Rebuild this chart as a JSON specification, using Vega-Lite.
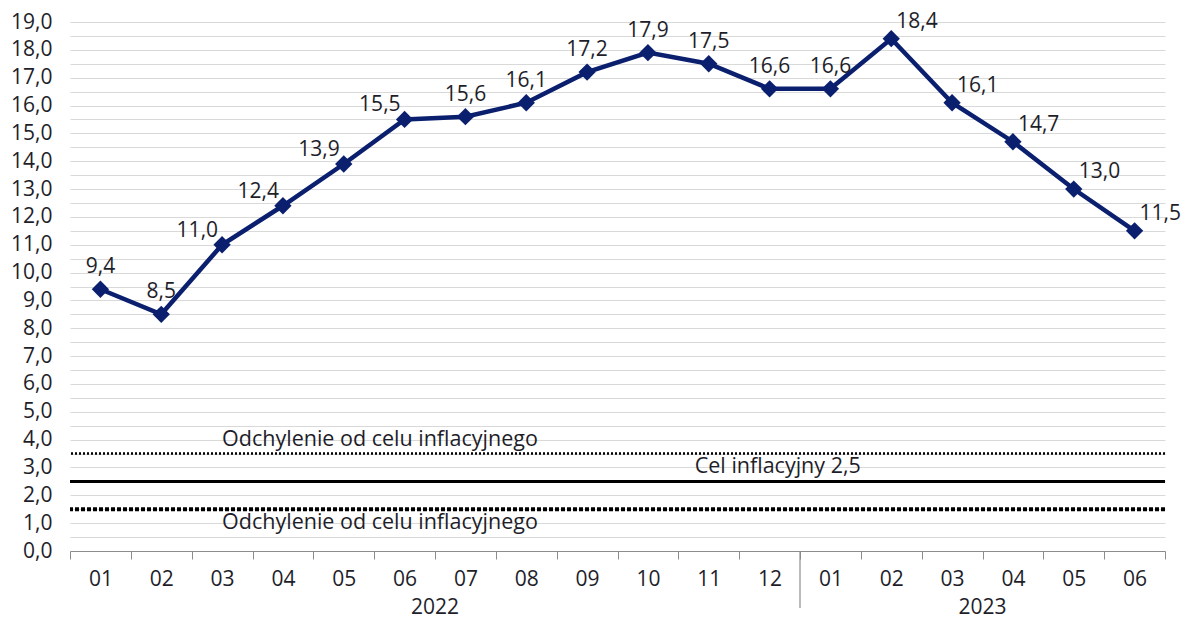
{
  "$schema": "https://vega.github.io/schema/vega-lite/v6.json",
  "width": 1095,
  "height": 529,
  "autosize": {"type": "none"},
  "padding": {"left": 70, "top": 22, "right": 22, "bottom": 74},
  "background": "white",
  "config": {
    "locale": {"number": {"decimal": ",", "thousands": " ", "grouping": [3], "currency": ["", " zł"]}},
    "font": "Open Sans",
    "view": {"stroke": null},
    "text": {"font": "Open Sans", "color": "#1e1e2a"}
  },
  "datasets": {
    "cpi": [
      {"period": "2022-01", "value": 9.4},
      {"period": "2022-02", "value": 8.5},
      {"period": "2022-03", "value": 11.0},
      {"period": "2022-04", "value": 12.4},
      {"period": "2022-05", "value": 13.9},
      {"period": "2022-06", "value": 15.5},
      {"period": "2022-07", "value": 15.6},
      {"period": "2022-08", "value": 16.1},
      {"period": "2022-09", "value": 17.2},
      {"period": "2022-10", "value": 17.9},
      {"period": "2022-11", "value": 17.5},
      {"period": "2022-12", "value": 16.6},
      {"period": "2023-01", "value": 16.6},
      {"period": "2023-02", "value": 18.4},
      {"period": "2023-03", "value": 16.1},
      {"period": "2023-04", "value": 14.7},
      {"period": "2023-05", "value": 13.0},
      {"period": "2023-06", "value": 11.5}
    ],
    "refs": [
      {"name": "upper", "value": 3.5},
      {"name": "target", "value": 2.5},
      {"name": "lower", "value": 1.5}
    ],
    "years": [
      {"year": "2022", "period": "2022-06", "value": 0},
      {"year": "2023", "period": "2023-03", "value": 0}
    ],
    "sep": [
      {"period": "2022-12", "value": 0, "value2": -2.05}
    ],
    "notes": [
      {"text": "Odchylenie od celu inflacyjnego", "period": "2022-03", "value": 4.0, "kind": "a"},
      {"text": "Odchylenie od celu inflacyjnego", "period": "2022-03", "value": 1.0, "kind": "a"},
      {"text": "Cel inflacyjny 2,5", "period": "2022-11", "value": 3.02, "kind": "b"}
    ]
  },
  "encoding": {
    "y": {
      "field": "value",
      "type": "quantitative",
      "scale": {"domain": [0, 19], "nice": false},
      "axis": {
        "title": null,
        "values": [0,0.5,1,1.5,2,2.5,3,3.5,4,4.5,5,5.5,6,6.5,7,7.5,8,8.5,9,9.5,10,10.5,11,11.5,12,12.5,13,13.5,14,14.5,15,15.5,16,16.5,17,17.5,18,18.5,19],
        "format": ".1f",
        "labelExpr": "datum.value % 1 === 0 ? datum.label : ''",
        "labelFontSize": 21,
        "labelColor": "#1e1e2a",
        "labelFont": "Open Sans",
        "labelPadding": 18,
        "ticks": false,
        "domain": false,
        "grid": true,
        "gridColor": "#d9d9d9",
        "gridWidth": 1.2
      }
    }
  },
  "layer": [
    {
      "data": {"name": "cpi"},
      "mark": {
        "type": "line",
        "color": "#0b1f6f",
        "strokeWidth": 4.5,
        "point": {"shape": "diamond", "size": 300, "filled": true, "color": "#0b1f6f", "opacity": 1}
      },
      "encoding": {
        "x": {
          "field": "period",
          "type": "ordinal",
          "scale": {"paddingInner": 0, "paddingOuter": 0},
          "axis": {
            "title": null,
            "labelExpr": "substring(datum.label, 5)",
            "labelAngle": 0,
            "labelFontSize": 21,
            "labelColor": "#1e1e2a",
            "labelFont": "Open Sans",
            "labelPadding": 9,
            "tickBand": "extent",
            "tickSize": 8,
            "tickColor": "#8c8c8c",
            "domainColor": "#8c8c8c",
            "grid": false
          }
        }
      }
    },
    {
      "data": {"name": "refs"},
      "transform": [{"filter": "datum.name === 'upper'"}],
      "mark": {"type": "rule", "color": "#000000", "strokeWidth": 2.5, "strokeDash": [2, 2]},
      "encoding": {}
    },
    {
      "data": {"name": "refs"},
      "transform": [{"filter": "datum.name === 'target'"}],
      "mark": {"type": "rule", "color": "#000000", "strokeWidth": 3},
      "encoding": {}
    },
    {
      "data": {"name": "refs"},
      "transform": [{"filter": "datum.name === 'lower'"}],
      "mark": {"type": "rule", "color": "#000000", "strokeWidth": 4, "strokeDash": [4, 2]},
      "encoding": {}
    },
    {
      "data": {"name": "sep"},
      "mark": {"type": "rule", "color": "#8c8c8c", "strokeWidth": 1.2},
      "encoding": {
        "x": {"field": "period", "type": "ordinal", "bandPosition": 1},
        "y2": {"field": "value2"}
      }
    },
    {
      "data": {"name": "years"},
      "mark": {"type": "text", "fontSize": 21, "baseline": "middle", "align": "center", "dy": 57},
      "encoding": {
        "x": {"field": "period", "type": "ordinal", "bandPosition": 1},
        "text": {"field": "year"}
      }
    },
    {
      "data": {"name": "notes"},
      "transform": [{"filter": "datum.kind === 'a'"}],
      "mark": {"type": "text", "fontSize": 21.5, "baseline": "middle", "align": "left"},
      "encoding": {
        "x": {"field": "period", "type": "ordinal", "bandPosition": 0.5},
        "text": {"field": "text"}
      }
    },
    {
      "data": {"name": "notes"},
      "transform": [{"filter": "datum.kind === 'b'"}],
      "mark": {"type": "text", "fontSize": 21.5, "baseline": "middle", "align": "left"},
      "encoding": {
        "x": {"field": "period", "type": "ordinal", "bandPosition": 0.27},
        "text": {"field": "text"}
      }
    },
    {
      "data": {"name": "cpi"},
      "transform": [{"filter": {"field": "period", "oneOf": ["2022-01", "2022-02", "2022-07", "2022-08", "2022-09", "2022-10", "2022-11", "2022-12", "2023-01"]}}],
      "mark": {"type": "text", "fontSize": 21, "align": "center", "baseline": "middle", "dy": -22},
      "encoding": {
        "x": {"field": "period", "type": "ordinal"},
        "text": {"field": "value", "type": "quantitative", "format": ".1f"}
      }
    },
    {
      "data": {"name": "cpi"},
      "transform": [{"filter": {"field": "period", "oneOf": ["2022-03", "2022-04", "2022-05", "2022-06"]}}],
      "mark": {"type": "text", "fontSize": 21, "align": "right", "baseline": "middle", "dx": -4, "dy": -14},
      "encoding": {
        "x": {"field": "period", "type": "ordinal"},
        "text": {"field": "value", "type": "quantitative", "format": ".1f"}
      }
    },
    {
      "data": {"name": "cpi"},
      "transform": [{"filter": {"field": "period", "oneOf": ["2023-02", "2023-03", "2023-04", "2023-05", "2023-06"]}}],
      "mark": {"type": "text", "fontSize": 21, "align": "left", "baseline": "middle", "dx": 5, "dy": -17},
      "encoding": {
        "x": {"field": "period", "type": "ordinal"},
        "text": {"field": "value", "type": "quantitative", "format": ".1f"}
      }
    }
  ]
}
